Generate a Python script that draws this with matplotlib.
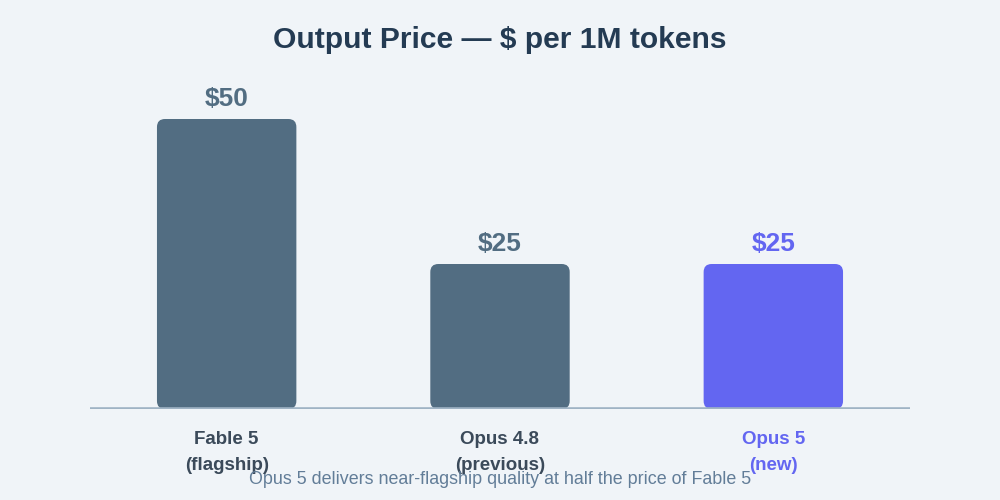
import matplotlib
matplotlib.use("Agg")
import matplotlib.pyplot as plt
from matplotlib.patches import FancyBboxPatch

categories = ["Fable 5\n(flagship)", "Opus 4.8\n(previous)", "Opus 5\n(new)"]
prices = [50, 25, 25]
value_labels = ["$50", "$25", "$25"]
bar_colors = ["#526d82", "#526d82", "#6366f1"]
label_colors = ["#3b4a5a", "#3b4a5a", "#6366f1"]
value_colors = ["#526d82", "#526d82", "#6366f1"]
title = "Output Price \u2014 $ per 1M tokens"
subtitle = "Opus 5 delivers near-flagship quality at half the price of Fable 5"

BG = "#f0f4f8"
plt.rcParams['font.family'] = ['Liberation Sans', 'DejaVu Sans']

fig = plt.figure(figsize=(10, 5), dpi=100, facecolor=BG)
ax = fig.add_axes([0.09, (500 - 409) / 500, 0.82, 290 / 500])
ax.set_facecolor(BG)
ax.set_xlim(-0.5, 2.5)
ax.set_ylim(0, 50)
for s in ax.spines.values():
    s.set_visible(False)
ax.set_xticks([])
ax.set_yticks([])

width = 0.51
bars = ax.bar(range(len(prices)), prices, width=width, color=bar_colors)

# pixel scales
px_per_x = 820 / 3.0
px_per_y = 290 / 50.0
r_px = 8
r_x = r_px / px_per_x
aspect = px_per_x / px_per_y

for b, c in zip(bars, bar_colors):
    x0, y0 = b.get_x(), b.get_y()
    w, h = b.get_width(), b.get_height()
    b.set_visible(False)
    p = FancyBboxPatch((x0, y0), w, h,
                       boxstyle=f"round,pad=0,rounding_size={r_x}",
                       mutation_aspect=aspect,
                       facecolor=c, edgecolor="none", zorder=2)
    ax.add_patch(p)

for i, (v, t, c) in enumerate(zip(prices, value_labels, value_colors)):
    ax.annotate(t, (i, v), xytext=(0, 6), textcoords="offset points",
                ha="center", va="bottom", fontsize=19, fontweight="bold",
                color=c, annotation_clip=False)

ax.axhline(0, color="#9fb3c4", lw=2.6, zorder=3, solid_capstyle="butt")

for i, (lab, c) in enumerate(zip(categories, label_colors)):
    ax.annotate(lab, (i, 0), xytext=(0, -15.5), textcoords="offset points",
                ha="center", va="top", fontsize=13.5, fontweight="bold",
                color=c, linespacing=1.75, annotation_clip=False)

fig.text(0.5, 1 - 40 / 500, title, ha="center", va="center",
         fontsize=21.6, fontweight="bold", color="#243b53")
fig.text(0.5, 1 - 479.5 / 500, subtitle, ha="center", va="center",
         fontsize=12.9, color="#627d98")

fig.savefig("out.png", dpi=100, facecolor=BG)
